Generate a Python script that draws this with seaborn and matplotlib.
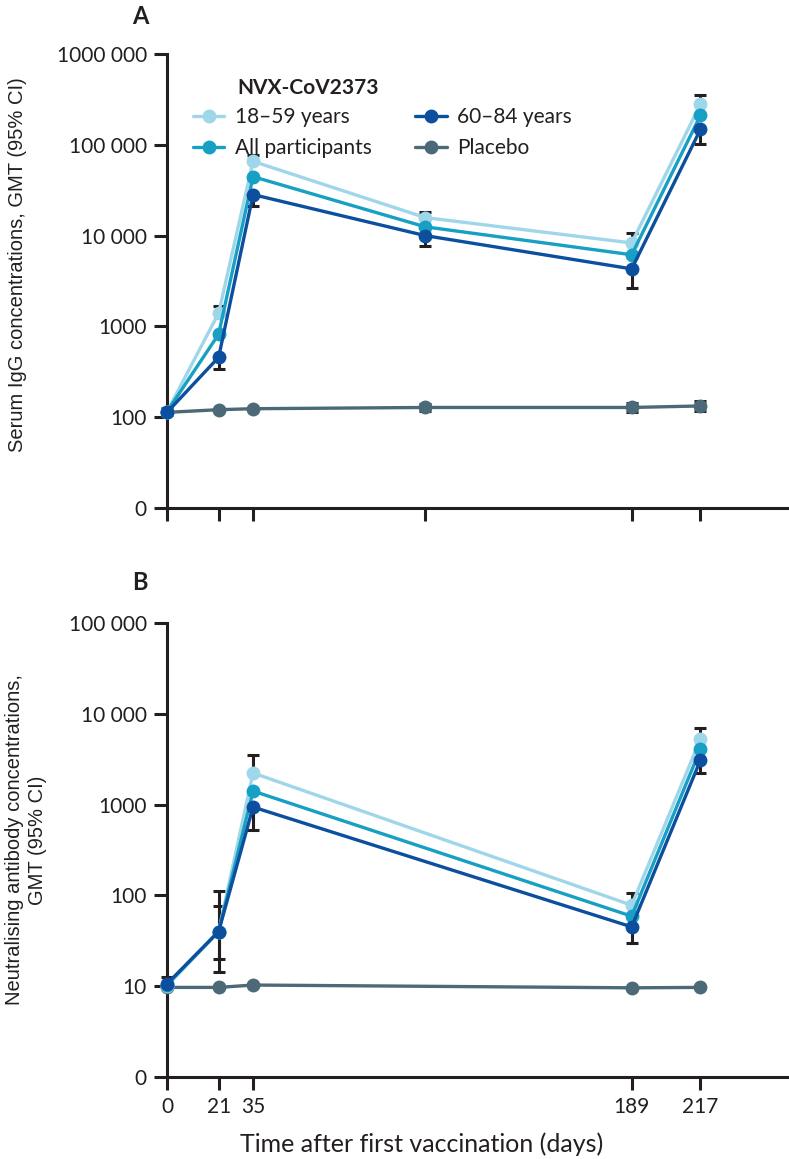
import numpy as np
import pandas as pd
import seaborn as sns
import matplotlib
matplotlib.use("Agg")
import matplotlib.pyplot as plt
from matplotlib.lines import Line2D

# ---------------- data ----------------
groups = ["Placebo", "18–59 years", "All participants", "60–84 years"]
colors = {"18–59 years": "#9fd6ea", "All participants": "#17a0c4",
          "60–84 years": "#0b4f9e", "Placebo": "#4b6977"}

# Panel A: serum IgG GMT
days_igg = [0, 21, 35, 105, 189, 217]
igg_young = [115, 1400, 65700, 15800, 8300, 280000]
igg_all = [115, 820, 44600, 12500, 6150, 211000]
igg_old = [113, 457, 28300, 10000, 4300, 148000]
igg_placebo = [113, 121, 124, 128, 128, 133]
igg_young_hi = [125, 1660, 78000, 18300, 10700, 354000]
igg_old_lo = [105, 340, 21400, 7700, 2650, 101000]
igg_placebo_lo = [np.nan, np.nan, np.nan, 117, 114, 117]
igg_placebo_hi = [np.nan, np.nan, np.nan, 141, 143, 152]

# Panel B: neutralising antibody GMT
days_nab = [0, 21, 35, 189, 217]
nab_young = [10.0, 40, 2230, 78, 5300]
nab_all = [10.4, 40, 1410, 59, 4100]
nab_old = [10.6, 40, 940, 45, 3100]
nab_placebo = [9.7, 9.7, 10.3, 9.6, 9.7]
nab_young_hi = [12.7, 111, 3560, 105, 6900]
nab_young_lo = [np.nan, 14.5, np.nan, np.nan, np.nan]
nab_old_hi = [np.nan, 76, np.nan, np.nan, np.nan]
nab_old_lo = [9.6, 20, 525, 30, 2250]

igg_ticks = [10, 100, 1000, 10000, 100000, 1000000]
igg_ticklabels = ["0", "100", "1000", "10 000", "100 000", "1000 000"]
nab_ticks = [1, 10, 100, 1000, 10000, 100000]
nab_ticklabels = ["0", "10", "100", "1000", "10 000", "100 000"]
xticks_a = [0, 21, 35, 105, 189, 217]
xticks_b = [0, 21, 35, 189, 217]
xticklabels_b = ["0", "21", "35", "189", "217"]

# ---------------- style ----------------
sns.set_theme(style="ticks")
plt.rcParams["font.family"] = ["Lato", "DejaVu Sans"]
INK = "#231f20"

W, H = 789, 1159
fig = plt.figure(figsize=(W / 100, H / 100), dpi=100)


def fx(px):
    return px / W


def fy(py):
    return 1 - py / H


x0 = 167
ax_a = fig.add_axes([fx(x0), fy(508), fx(W - x0), (508 - 54) / H])
ax_b = fig.add_axes([fx(x0), fy(1077), fx(W - x0), (1077 - 623) / H])


def long_df(days, series):
    rows = []
    for g, vals in series.items():
        for d, v in zip(days, vals):
            rows.append({"day": d, "gmt": v, "group": g})
    return pd.DataFrame(rows)


def errbars(ax, days, center, lo, hi, color=INK):
    for d, c, l, h in zip(days, center, lo, hi):
        if not np.isnan(h):
            ax.errorbar([d], [c], yerr=[[0], [h - c]], fmt="none", ecolor=color,
                        elinewidth=2.2, capsize=4.5, capthick=2.2, zorder=1,
                        clip_on=False)
        if not np.isnan(l):
            ax.errorbar([d], [c], yerr=[[c - l], [0]], fmt="none", ecolor=color,
                        elinewidth=2.2, capsize=4.5, capthick=2.2, zorder=1,
                        clip_on=False)


def panel(ax, df, yt, ytl, ylim):
    sns.lineplot(data=df, x="day", y="gmt", hue="group", hue_order=groups,
                 palette=colors, marker="o", markersize=10, markeredgewidth=0,
                 linewidth=2.4, legend=False, ax=ax, sort=False)
    for ln in ax.lines:
        ln.set_clip_on(False)
        ln.set_zorder(3)
    ax.set_yscale("log")
    ax.set_ylim(*ylim)
    ax.set_xlim(0, 253)
    ax.set_yticks(yt)
    ax.set_yticklabels(ytl)
    ax.yaxis.set_minor_locator(matplotlib.ticker.NullLocator())
    sns.despine(ax=ax)
    for s in ["left", "bottom"]:
        ax.spines[s].set_linewidth(2.2)
        ax.spines[s].set_color(INK)
    ax.tick_params(axis="both", which="major", direction="out", length=9.5,
                   width=2.2, color=INK, labelsize=15, labelcolor=INK, pad=5)
    ax.set_xlabel("")
    ax.grid(False)


# Panel A
df_a = long_df(days_igg, {"Placebo": igg_placebo, "18–59 years": igg_young,
                          "All participants": igg_all, "60–84 years": igg_old})
errbars(ax_a, days_igg, igg_young, [np.nan] * 6, igg_young_hi)
errbars(ax_a, days_igg, igg_old, igg_old_lo, [np.nan] * 6)
errbars(ax_a, days_igg, igg_placebo, igg_placebo_lo, igg_placebo_hi)
panel(ax_a, df_a, igg_ticks, igg_ticklabels, (10, 1e6))
ax_a.set_xticks(xticks_a)
ax_a.set_xticklabels([])
ax_a.set_ylabel("Serum IgG concentrations, GMT (95% CI)", family="Liberation Sans",
                fontsize=14.5, color=INK)
ax_a.yaxis.set_label_coords((27 - x0) / (W - x0), 0.535)

# Panel B
df_b = long_df(days_nab, {"Placebo": nab_placebo, "18–59 years": nab_young,
                          "All participants": nab_all, "60–84 years": nab_old})
errbars(ax_b, days_nab, nab_young, nab_young_lo, nab_young_hi)
errbars(ax_b, days_nab, nab_old, nab_old_lo, nab_old_hi)
panel(ax_b, df_b, nab_ticks, nab_ticklabels, (1, 1e5))
ax_b.set_xticks(xticks_b)
ax_b.set_xticklabels(xticklabels_b)
ax_b.set_ylabel("Neutralising antibody concentrations,\nGMT (95% CI)",
                family="Liberation Sans", fontsize=14.5, color=INK, linespacing=1.25)
ax_b.yaxis.set_label_coords((47 - x0) / (W - x0), 0.522)
ax_b.set_xlabel("Time after first vaccination (days)", fontsize=18, color=INK)
ax_b.xaxis.set_label_coords((422 - x0) / (W - x0), -(1132 - 1077) / 454)

# Panel letters
fig.text(fx(140), fy(16), "A", fontsize=17, fontweight="bold", color=INK,
         ha="center", va="center")
fig.text(fx(140), fy(582), "B", fontsize=17, fontweight="bold", color=INK,
         ha="center", va="center")

# Legend
order = ["18–59 years", "All participants", "60–84 years", "Placebo"]
handles = [Line2D([0], [0], color=colors[g], lw=2.4, marker="o", markersize=10,
                  markeredgewidth=0) for g in order]
leg = ax_a.legend(handles, order, ncol=2, frameon=False, fontsize=15,
                  loc="upper left", bbox_to_anchor=(fx(193), fy(107)),
                  bbox_transform=fig.transFigure, borderpad=0, borderaxespad=0,
                  handlelength=1.5, handletextpad=0.5, columnspacing=2.1,
                  labelspacing=0.55)
for t in leg.get_texts():
    t.set_color(INK)
fig.text(fx(237), fy(88), "NVX-CoV2373", fontsize=15, fontweight="bold",
         color=INK, ha="left", va="center")

fig.savefig("out.png", dpi=100)
